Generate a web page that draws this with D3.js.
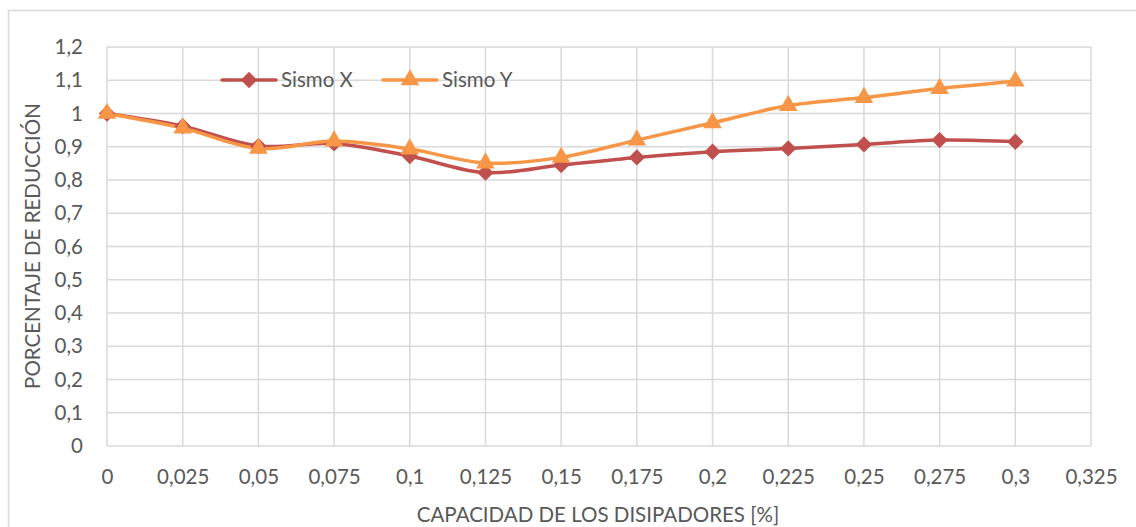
<!DOCTYPE html>
<html><head><meta charset="utf-8">
<script src="https://cdn.jsdelivr.net/npm/d3@7/dist/d3.min.js"></script>
<style>
body{margin:0;background:#fff;}
svg text{font-family:Lato, "Open Sans", sans-serif;fill:#595959;}
</style></head>
<body><svg id="c" width="1136" height="527"></svg>
<script>
const capacidad = [0,0.025,0.05,0.075,0.1,0.125,0.15,0.175,0.2,0.225,0.25,0.275,0.3];
const sismoX = [1.0,0.962,0.902,0.910,0.872,0.822,0.845,0.868,0.885,0.895,0.907,0.920,0.915];
const sismoY = [1.0,0.956,0.895,0.917,0.893,0.851,0.868,0.920,0.972,1.024,1.048,1.075,1.097];
const xTicks = [0,0.025,0.05,0.075,0.1,0.125,0.15,0.175,0.2,0.225,0.25,0.275,0.3,0.325];
const yTicks = [0,0.1,0.2,0.3,0.4,0.5,0.6,0.7,0.8,0.9,1,1.1,1.2];
const seriesNames = ["Sismo X","Sismo Y"];
const colors = ["#C0504D","#F79646"];
const xTitle = "CAPACIDAD DE LOS DISIPADORES [%]";
const yTitle = "PORCENTAJE DE REDUCCIÓN";

const svg = d3.select("#c");
const L=107,R=1091,T=47,B=446;
const FS=20.5;
const fmt = v => String(+v.toFixed(3)).replace(".",",");

svg.append("rect").attr("x",8.5).attr("y",10.5).attr("width",1140).attr("height",530)
  .attr("fill","#fff").attr("stroke","#d9d9d9").attr("stroke-width",1.5);

const x = d3.scaleLinear().domain([0,0.325]).range([L,R]);
const y = d3.scaleLinear().domain([0,1.2]).range([B,T]);

const g = svg.append("g");
g.selectAll("line.v").data(xTicks).join("line")
  .attr("x1",d=>x(d)).attr("x2",d=>x(d)).attr("y1",T).attr("y2",B)
  .attr("stroke","#d9d9d9").attr("stroke-width",1.5);
g.selectAll("line.h").data(yTicks).join("line")
  .attr("y1",d=>y(d)).attr("y2",d=>y(d)).attr("x1",L).attr("x2",R)
  .attr("stroke","#d9d9d9").attr("stroke-width",1.5);

const xa = svg.append("g").attr("transform",`translate(0,${B})`)
  .call(d3.axisBottom(x).tickValues(xTicks).tickFormat(fmt).tickSize(0).tickPadding(23));
xa.select(".domain").remove();
xa.selectAll("text").attr("font-size",FS).attr("fill","#595959");
const ya = svg.append("g").attr("transform",`translate(${L},0)`)
  .call(d3.axisLeft(y).tickValues(yTicks).tickFormat(fmt).tickSize(0).tickPadding(24));
ya.select(".domain").remove();
ya.selectAll("text").attr("font-size",FS).attr("fill","#595959");

svg.append("text").attr("x",598).attr("y",522).attr("text-anchor","middle")
  .attr("font-size",FS).text(xTitle);
svg.append("text").attr("transform","translate(40,246) rotate(-90)").attr("text-anchor","middle")
  .attr("font-size",FS).text(yTitle);

const line = d3.line().x(d=>x(d[0])).y(d=>y(d[1])).curve(d3.curveCatmullRom.alpha(0.5));
const data = [sismoX,sismoY].map(s=>capacidad.map((c,i)=>[c,s[i]]));
const diamond = d3.symbol().type(d3.symbolDiamond2).size(170);
const tri = d3.symbol().type(d3.symbolTriangle).size(150);
data.forEach((pts,k)=>{
  svg.append("path").attr("d",line(pts)).attr("fill","none").attr("stroke",colors[k])
    .attr("stroke-width",3.5).attr("stroke-linecap","round");
});
data.forEach((pts,k)=>{
  svg.selectAll(null).data(pts).join("path")
    .attr("transform",d=>`translate(${x(d[0])},${y(d[1])})`)
    .attr("d",k===0?diamond:tri).attr("fill",colors[k]);
});

const leg = [[222,281],[383,442]];
leg.forEach((p,k)=>{
  svg.append("line").attr("x1",p[0]).attr("x2",p[0]+54).attr("y1",80).attr("y2",80)
    .attr("stroke",colors[k]).attr("stroke-width",3.5).attr("stroke-linecap","round");
  svg.append("path").attr("transform",`translate(${p[0]+27},80)`).attr("d",k===0?diamond:tri).attr("fill",colors[k]);
  svg.append("text").attr("x",p[1]).attr("y",80).attr("dy","0.35em").attr("font-size",FS).text(seriesNames[k]);
});
</script></body></html>
